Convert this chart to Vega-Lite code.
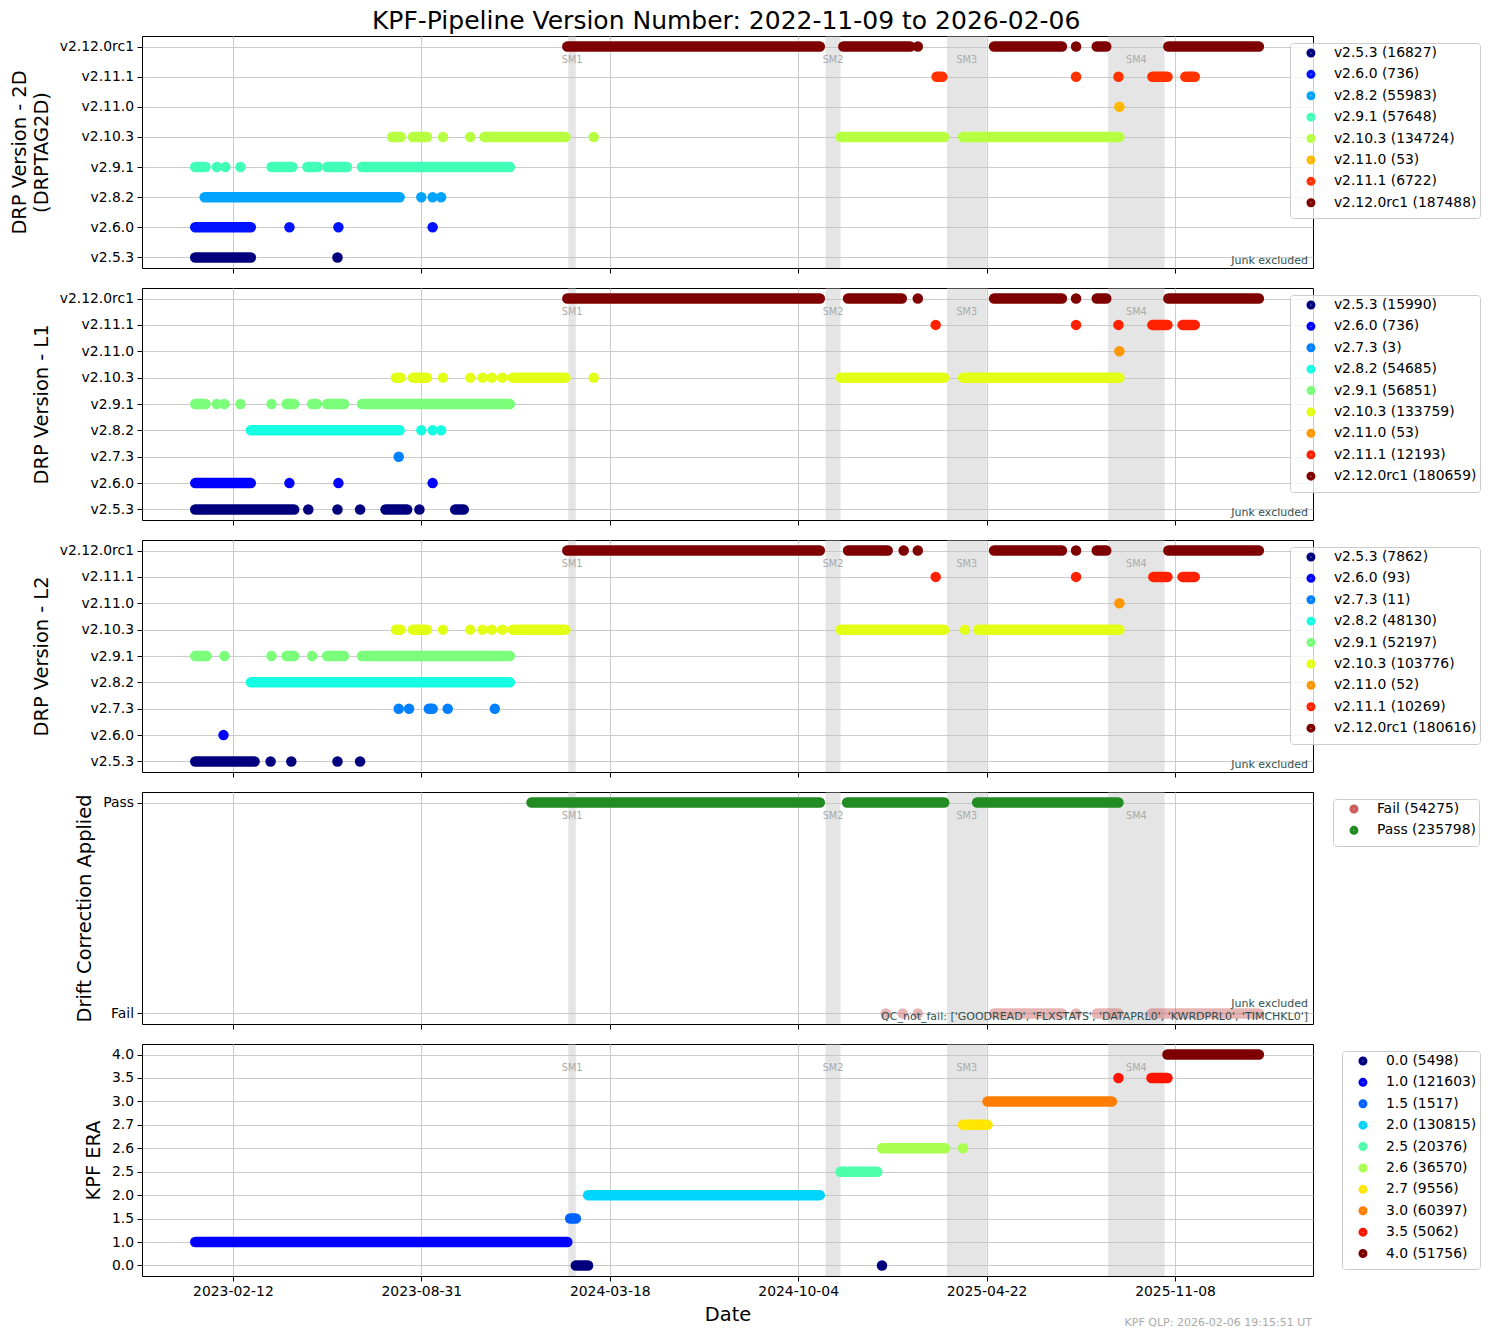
{
  "$schema": "https://vega.github.io/schema/vega-lite/v6.json",
  "background": "white",
  "padding": {"left": 9, "top": 8, "right": 10, "bottom": 5},
  "title": {"text": "KPF-Pipeline Version Number: 2022-11-09 to 2026-02-06", "fontSize": 25, "fontWeight": "normal", "font": "DejaVu Sans", "color": "#000000", "anchor": "middle", "offset": 2, "dx": -19},
  "config": {
    "font": "DejaVu Sans",
    "view": {"stroke": "#000000", "strokeWidth": 1},
    "axis": {"labelFont": "DejaVu Sans", "labelFontSize": 13.9, "labelColor": "#000000", "tickColor": "#000000", "tickSize": 5, "tickWidth": 1, "domain": false, "gridColor": "#cccccc", "gridWidth": 1, "titleFont": "DejaVu Sans", "titleFontSize": 19.4, "titleFontWeight": "normal", "titleColor": "#000000", "labelPadding": 3.5, "zindex": 1},
    "legend": {"labelFont": "DejaVu Sans", "labelFontSize": 13.9, "labelColor": "#000000", "symbolType": "circle", "symbolSize": 16, "symbolStrokeWidth": 5, "strokeColor": "#cccccc", "fillColor": "rgba(255,255,255,0.8)", "cornerRadius": 3, "padding": 3, "rowPadding": -3.6, "symbolOffset": 11, "labelOffset": 16}
  },
  "datasets": {
    "sm": [
      {"n": "SM1", "s": "2024-02-03", "e": "2024-02-11", "m": "2024-02-07"},
      {"n": "SM2", "s": "2024-11-02", "e": "2024-11-18", "m": "2024-11-10"},
      {"n": "SM3", "s": "2025-03-11", "e": "2025-04-22", "m": "2025-04-01"},
      {"n": "SM4", "s": "2025-08-29", "e": "2025-10-28", "m": "2025-09-28"}
    ],
    "c2d": [
      {"v": "v2.5.3", "lab": "v2.5.3 (16827)"},
      {"v": "v2.6.0", "lab": "v2.6.0 (736)"},
      {"v": "v2.8.2", "lab": "v2.8.2 (55983)"},
      {"v": "v2.9.1", "lab": "v2.9.1 (57648)"},
      {"v": "v2.10.3", "lab": "v2.10.3 (134724)"},
      {"v": "v2.11.0", "lab": "v2.11.0 (53)"},
      {"v": "v2.11.1", "lab": "v2.11.1 (6722)"},
      {"v": "v2.12.0rc1", "lab": "v2.12.0rc1 (187488)"}
    ],
    "cl1": [
      {"v": "v2.5.3", "lab": "v2.5.3 (15990)"},
      {"v": "v2.6.0", "lab": "v2.6.0 (736)"},
      {"v": "v2.7.3", "lab": "v2.7.3 (3)"},
      {"v": "v2.8.2", "lab": "v2.8.2 (54685)"},
      {"v": "v2.9.1", "lab": "v2.9.1 (56851)"},
      {"v": "v2.10.3", "lab": "v2.10.3 (133759)"},
      {"v": "v2.11.0", "lab": "v2.11.0 (53)"},
      {"v": "v2.11.1", "lab": "v2.11.1 (12193)"},
      {"v": "v2.12.0rc1", "lab": "v2.12.0rc1 (180659)"}
    ],
    "cl2": [
      {"v": "v2.5.3", "lab": "v2.5.3 (7862)"},
      {"v": "v2.6.0", "lab": "v2.6.0 (93)"},
      {"v": "v2.7.3", "lab": "v2.7.3 (11)"},
      {"v": "v2.8.2", "lab": "v2.8.2 (48130)"},
      {"v": "v2.9.1", "lab": "v2.9.1 (52197)"},
      {"v": "v2.10.3", "lab": "v2.10.3 (103776)"},
      {"v": "v2.11.0", "lab": "v2.11.0 (52)"},
      {"v": "v2.11.1", "lab": "v2.11.1 (10269)"},
      {"v": "v2.12.0rc1", "lab": "v2.12.0rc1 (180616)"}
    ],
    "cdr": [
      {"v": "Fail", "lab": "Fail (54275)"},
      {"v": "Pass", "lab": "Pass (235798)"}
    ],
    "cera": [
      {"v": "0.0", "lab": "0.0 (5498)"},
      {"v": "1.0", "lab": "1.0 (121603)"},
      {"v": "1.5", "lab": "1.5 (1517)"},
      {"v": "2.0", "lab": "2.0 (130815)"},
      {"v": "2.5", "lab": "2.5 (20376)"},
      {"v": "2.6", "lab": "2.6 (36570)"},
      {"v": "2.7", "lab": "2.7 (9556)"},
      {"v": "3.0", "lab": "3.0 (60397)"},
      {"v": "3.5", "lab": "3.5 (5062)"},
      {"v": "4.0", "lab": "4.0 (51756)"}
    ],
    "d2": [
      {"v": "v2.5.3", "s": "2023-01-03", "e": "2023-03-03"},
      {"v": "v2.5.3", "s": "2023-06-03", "e": "2023-06-03"},
      {"v": "v2.6.0", "s": "2023-01-03", "e": "2023-03-03"},
      {"v": "v2.6.0", "s": "2023-04-13", "e": "2023-04-13"},
      {"v": "v2.6.0", "s": "2023-06-04", "e": "2023-06-04"},
      {"v": "v2.6.0", "s": "2023-09-12", "e": "2023-09-12"},
      {"v": "v2.8.2", "s": "2023-01-13", "e": "2023-08-08"},
      {"v": "v2.8.2", "s": "2023-08-31", "e": "2023-08-31"},
      {"v": "v2.8.2", "s": "2023-09-12", "e": "2023-09-12"},
      {"v": "v2.8.2", "s": "2023-09-21", "e": "2023-09-21"},
      {"v": "v2.9.1", "s": "2023-01-03", "e": "2023-01-14"},
      {"v": "v2.9.1", "s": "2023-01-26", "e": "2023-01-26"},
      {"v": "v2.9.1", "s": "2023-02-04", "e": "2023-02-04"},
      {"v": "v2.9.1", "s": "2023-02-20", "e": "2023-02-20"},
      {"v": "v2.9.1", "s": "2023-03-25", "e": "2023-04-16"},
      {"v": "v2.9.1", "s": "2023-05-02", "e": "2023-05-13"},
      {"v": "v2.9.1", "s": "2023-05-23", "e": "2023-06-13"},
      {"v": "v2.9.1", "s": "2023-06-29", "e": "2023-12-03"},
      {"v": "v2.10.3", "s": "2023-07-31", "e": "2023-08-09"},
      {"v": "v2.10.3", "s": "2023-08-22", "e": "2023-09-06"},
      {"v": "v2.10.3", "s": "2023-09-23", "e": "2023-09-23"},
      {"v": "v2.10.3", "s": "2023-10-22", "e": "2023-10-22"},
      {"v": "v2.10.3", "s": "2023-11-06", "e": "2024-01-31"},
      {"v": "v2.10.3", "s": "2024-03-01", "e": "2024-03-01"},
      {"v": "v2.10.3", "s": "2024-11-18", "e": "2025-03-08"},
      {"v": "v2.10.3", "s": "2025-03-28", "e": "2025-09-10"},
      {"v": "v2.11.0", "s": "2025-09-10", "e": "2025-09-10"},
      {"v": "v2.11.1", "s": "2025-02-28", "e": "2025-03-06"},
      {"v": "v2.11.1", "s": "2025-07-26", "e": "2025-07-26"},
      {"v": "v2.11.1", "s": "2025-09-09", "e": "2025-09-09"},
      {"v": "v2.11.1", "s": "2025-10-15", "e": "2025-10-31"},
      {"v": "v2.11.1", "s": "2025-11-19", "e": "2025-11-29"},
      {"v": "v2.12.0rc1", "s": "2024-02-02", "e": "2024-10-27"},
      {"v": "v2.12.0rc1", "s": "2024-11-21", "e": "2025-01-31"},
      {"v": "v2.12.0rc1", "s": "2025-02-08", "e": "2025-02-08"},
      {"v": "v2.12.0rc1", "s": "2025-04-30", "e": "2025-07-11"},
      {"v": "v2.12.0rc1", "s": "2025-07-26", "e": "2025-07-26"},
      {"v": "v2.12.0rc1", "s": "2025-08-17", "e": "2025-08-27"},
      {"v": "v2.12.0rc1", "s": "2025-11-01", "e": "2026-02-05"}
    ],
    "l1": [
      {"v": "v2.5.3", "s": "2023-01-03", "e": "2023-04-18"},
      {"v": "v2.5.3", "s": "2023-05-03", "e": "2023-05-03"},
      {"v": "v2.5.3", "s": "2023-06-03", "e": "2023-06-03"},
      {"v": "v2.5.3", "s": "2023-06-27", "e": "2023-06-27"},
      {"v": "v2.5.3", "s": "2023-07-24", "e": "2023-08-16"},
      {"v": "v2.5.3", "s": "2023-08-29", "e": "2023-08-29"},
      {"v": "v2.5.3", "s": "2023-10-06", "e": "2023-10-15"},
      {"v": "v2.6.0", "s": "2023-01-03", "e": "2023-03-03"},
      {"v": "v2.6.0", "s": "2023-04-13", "e": "2023-04-13"},
      {"v": "v2.6.0", "s": "2023-06-04", "e": "2023-06-04"},
      {"v": "v2.6.0", "s": "2023-09-12", "e": "2023-09-12"},
      {"v": "v2.7.3", "s": "2023-08-07", "e": "2023-08-07"},
      {"v": "v2.8.2", "s": "2023-03-03", "e": "2023-08-08"},
      {"v": "v2.8.2", "s": "2023-08-31", "e": "2023-08-31"},
      {"v": "v2.8.2", "s": "2023-09-12", "e": "2023-09-12"},
      {"v": "v2.8.2", "s": "2023-09-21", "e": "2023-09-21"},
      {"v": "v2.9.1", "s": "2023-01-03", "e": "2023-01-14"},
      {"v": "v2.9.1", "s": "2023-01-26", "e": "2023-01-26"},
      {"v": "v2.9.1", "s": "2023-02-03", "e": "2023-02-03"},
      {"v": "v2.9.1", "s": "2023-02-20", "e": "2023-02-20"},
      {"v": "v2.9.1", "s": "2023-03-25", "e": "2023-03-25"},
      {"v": "v2.9.1", "s": "2023-04-10", "e": "2023-04-18"},
      {"v": "v2.9.1", "s": "2023-05-07", "e": "2023-05-12"},
      {"v": "v2.9.1", "s": "2023-05-23", "e": "2023-06-10"},
      {"v": "v2.9.1", "s": "2023-06-29", "e": "2023-12-03"},
      {"v": "v2.10.3", "s": "2023-08-04", "e": "2023-08-09"},
      {"v": "v2.10.3", "s": "2023-08-22", "e": "2023-09-06"},
      {"v": "v2.10.3", "s": "2023-09-23", "e": "2023-09-23"},
      {"v": "v2.10.3", "s": "2023-10-22", "e": "2023-10-22"},
      {"v": "v2.10.3", "s": "2023-11-04", "e": "2023-11-04"},
      {"v": "v2.10.3", "s": "2023-11-14", "e": "2023-11-14"},
      {"v": "v2.10.3", "s": "2023-11-25", "e": "2023-11-25"},
      {"v": "v2.10.3", "s": "2023-12-06", "e": "2024-01-31"},
      {"v": "v2.10.3", "s": "2024-03-01", "e": "2024-03-01"},
      {"v": "v2.10.3", "s": "2024-11-18", "e": "2025-03-08"},
      {"v": "v2.10.3", "s": "2025-03-28", "e": "2025-09-10"},
      {"v": "v2.11.0", "s": "2025-09-10", "e": "2025-09-10"},
      {"v": "v2.11.1", "s": "2025-02-27", "e": "2025-02-27"},
      {"v": "v2.11.1", "s": "2025-07-26", "e": "2025-07-26"},
      {"v": "v2.11.1", "s": "2025-09-09", "e": "2025-09-09"},
      {"v": "v2.11.1", "s": "2025-10-15", "e": "2025-10-31"},
      {"v": "v2.11.1", "s": "2025-11-16", "e": "2025-11-29"},
      {"v": "v2.12.0rc1", "s": "2024-02-02", "e": "2024-10-27"},
      {"v": "v2.12.0rc1", "s": "2024-11-26", "e": "2025-01-22"},
      {"v": "v2.12.0rc1", "s": "2025-02-08", "e": "2025-02-08"},
      {"v": "v2.12.0rc1", "s": "2025-04-30", "e": "2025-07-11"},
      {"v": "v2.12.0rc1", "s": "2025-07-26", "e": "2025-07-26"},
      {"v": "v2.12.0rc1", "s": "2025-08-17", "e": "2025-08-27"},
      {"v": "v2.12.0rc1", "s": "2025-11-01", "e": "2026-02-05"}
    ],
    "l2": [
      {"v": "v2.5.3", "s": "2023-01-03", "e": "2023-03-07"},
      {"v": "v2.5.3", "s": "2023-03-24", "e": "2023-03-24"},
      {"v": "v2.5.3", "s": "2023-04-15", "e": "2023-04-15"},
      {"v": "v2.5.3", "s": "2023-06-03", "e": "2023-06-03"},
      {"v": "v2.5.3", "s": "2023-06-27", "e": "2023-06-27"},
      {"v": "v2.6.0", "s": "2023-02-02", "e": "2023-02-02"},
      {"v": "v2.7.3", "s": "2023-08-07", "e": "2023-08-07"},
      {"v": "v2.7.3", "s": "2023-08-18", "e": "2023-08-18"},
      {"v": "v2.7.3", "s": "2023-09-08", "e": "2023-09-12"},
      {"v": "v2.7.3", "s": "2023-09-28", "e": "2023-09-28"},
      {"v": "v2.7.3", "s": "2023-11-17", "e": "2023-11-17"},
      {"v": "v2.8.2", "s": "2023-03-03", "e": "2023-12-03"},
      {"v": "v2.9.1", "s": "2023-01-03", "e": "2023-01-15"},
      {"v": "v2.9.1", "s": "2023-02-03", "e": "2023-02-03"},
      {"v": "v2.9.1", "s": "2023-03-25", "e": "2023-03-25"},
      {"v": "v2.9.1", "s": "2023-04-10", "e": "2023-04-18"},
      {"v": "v2.9.1", "s": "2023-05-07", "e": "2023-05-07"},
      {"v": "v2.9.1", "s": "2023-05-23", "e": "2023-06-10"},
      {"v": "v2.9.1", "s": "2023-06-29", "e": "2023-12-03"},
      {"v": "v2.10.3", "s": "2023-08-04", "e": "2023-08-09"},
      {"v": "v2.10.3", "s": "2023-08-22", "e": "2023-09-06"},
      {"v": "v2.10.3", "s": "2023-09-23", "e": "2023-09-23"},
      {"v": "v2.10.3", "s": "2023-10-22", "e": "2023-10-22"},
      {"v": "v2.10.3", "s": "2023-11-04", "e": "2023-11-04"},
      {"v": "v2.10.3", "s": "2023-11-14", "e": "2023-11-14"},
      {"v": "v2.10.3", "s": "2023-11-25", "e": "2023-11-25"},
      {"v": "v2.10.3", "s": "2023-12-06", "e": "2024-01-31"},
      {"v": "v2.10.3", "s": "2024-11-18", "e": "2025-03-08"},
      {"v": "v2.10.3", "s": "2025-03-30", "e": "2025-03-30"},
      {"v": "v2.10.3", "s": "2025-04-13", "e": "2025-09-10"},
      {"v": "v2.11.0", "s": "2025-09-10", "e": "2025-09-10"},
      {"v": "v2.11.1", "s": "2025-02-27", "e": "2025-02-27"},
      {"v": "v2.11.1", "s": "2025-07-26", "e": "2025-07-26"},
      {"v": "v2.11.1", "s": "2025-10-16", "e": "2025-10-31"},
      {"v": "v2.11.1", "s": "2025-11-16", "e": "2025-11-29"},
      {"v": "v2.12.0rc1", "s": "2024-02-02", "e": "2024-10-27"},
      {"v": "v2.12.0rc1", "s": "2024-11-26", "e": "2025-01-07"},
      {"v": "v2.12.0rc1", "s": "2025-01-24", "e": "2025-01-24"},
      {"v": "v2.12.0rc1", "s": "2025-02-08", "e": "2025-02-08"},
      {"v": "v2.12.0rc1", "s": "2025-04-30", "e": "2025-07-11"},
      {"v": "v2.12.0rc1", "s": "2025-07-26", "e": "2025-07-26"},
      {"v": "v2.12.0rc1", "s": "2025-08-17", "e": "2025-08-27"},
      {"v": "v2.12.0rc1", "s": "2025-11-01", "e": "2026-02-05"}
    ],
    "dr": [
      {"v": "Pass", "s": "2023-12-26", "e": "2024-10-27"},
      {"v": "Pass", "s": "2024-11-25", "e": "2025-03-08"},
      {"v": "Pass", "s": "2025-04-12", "e": "2025-09-09"},
      {"v": "Fail", "s": "2025-01-05", "e": "2025-01-05"},
      {"v": "Fail", "s": "2025-01-23", "e": "2025-01-23"},
      {"v": "Fail", "s": "2025-02-08", "e": "2025-02-08"},
      {"v": "Fail", "s": "2025-04-30", "e": "2025-07-11"},
      {"v": "Fail", "s": "2025-07-26", "e": "2025-07-26"},
      {"v": "Fail", "s": "2025-08-17", "e": "2025-09-09"},
      {"v": "Fail", "s": "2025-10-14", "e": "2026-02-05"}
    ],
    "era": [
      {"v": "1.0", "s": "2023-01-03", "e": "2024-02-02"},
      {"v": "0.0", "s": "2024-02-11", "e": "2024-02-24"},
      {"v": "0.0", "s": "2025-01-01", "e": "2025-01-01"},
      {"v": "1.5", "s": "2024-02-05", "e": "2024-02-11"},
      {"v": "2.0", "s": "2024-02-24", "e": "2024-10-27"},
      {"v": "2.5", "s": "2024-11-18", "e": "2024-12-27"},
      {"v": "2.6", "s": "2025-01-01", "e": "2025-03-09"},
      {"v": "2.6", "s": "2025-03-28", "e": "2025-03-28"},
      {"v": "2.7", "s": "2025-03-28", "e": "2025-04-23"},
      {"v": "3.0", "s": "2025-04-23", "e": "2025-09-02"},
      {"v": "3.5", "s": "2025-09-09", "e": "2025-09-09"},
      {"v": "3.5", "s": "2025-10-14", "e": "2025-10-31"},
      {"v": "4.0", "s": "2025-10-31", "e": "2026-02-05"}
    ]
  },
  "spacing": 13,
  "resolve": {"scale": {"x": "independent", "y": "independent", "color": "independent"}, "legend": {"color": "independent"}},
  "vconcat": [
    {
      "width": 1171, "height": 232,
      "layer": [
        {"data": {"name": "sm"}, "mark": {"type": "rect", "fill": "#bfbfbf", "opacity": 0.4}, "encoding": {"x": {"field": "s", "type": "temporal", "scale": {"type": "utc", "domain": [{"year": 2022, "month": 11, "date": 7, "hours": 12, "utc": true}, {"year": 2026, "month": 4, "date": 3, "hours": 12, "utc": true}]}, "axis": {"values": [{"year": 2023, "month": 2, "date": 12, "utc": true}, {"year": 2023, "month": 8, "date": 31, "utc": true}, {"year": 2024, "month": 3, "date": 18, "utc": true}, {"year": 2024, "month": 10, "date": 4, "utc": true}, {"year": 2025, "month": 4, "date": 22, "utc": true}, {"year": 2025, "month": 11, "date": 8, "utc": true}], "labels": false, "title": null, "grid": true}}, "x2": {"field": "e"}}},
        {"data": {"name": "sm"}, "mark": {"type": "text", "fontSize": 9.7, "color": "#aaaaaa", "baseline": "middle", "align": "center", "dy": 13.5}, "encoding": {"x": {"field": "m", "type": "temporal", "scale": {"type": "utc", "domain": [{"year": 2022, "month": 11, "date": 7, "hours": 12, "utc": true}, {"year": 2026, "month": 4, "date": 3, "hours": 12, "utc": true}]}, "axis": {"values": [{"year": 2023, "month": 2, "date": 12, "utc": true}, {"year": 2023, "month": 8, "date": 31, "utc": true}, {"year": 2024, "month": 3, "date": 18, "utc": true}, {"year": 2024, "month": 10, "date": 4, "utc": true}, {"year": 2025, "month": 4, "date": 22, "utc": true}, {"year": 2025, "month": 11, "date": 8, "utc": true}], "labels": false, "title": null, "grid": true}}, "y": {"datum": "v2.12.0rc1", "type": "ordinal", "scale": {"type": "point", "padding": 0.35, "domain": ["v2.12.0rc1", "v2.11.1", "v2.11.0", "v2.10.3", "v2.9.1", "v2.8.2", "v2.6.0", "v2.5.3"]}, "axis": {"title": ["DRP Version - 2D", "(DRPTAG2D)"], "titlePadding": 8, "grid": true}}, "text": {"field": "n"}}},
        {"data": {"name": "d2"}, "transform": [{"lookup": "v", "from": {"data": {"name": "c2d"}, "key": "v", "fields": ["lab"]}}],
         "mark": {"type": "rule", "strokeCap": "round"},
         "encoding": {
           "x": {"field": "s", "type": "temporal", "scale": {"type": "utc", "domain": [{"year": 2022, "month": 11, "date": 7, "hours": 12, "utc": true}, {"year": 2026, "month": 4, "date": 3, "hours": 12, "utc": true}]}, "axis": {"values": [{"year": 2023, "month": 2, "date": 12, "utc": true}, {"year": 2023, "month": 8, "date": 31, "utc": true}, {"year": 2024, "month": 3, "date": 18, "utc": true}, {"year": 2024, "month": 10, "date": 4, "utc": true}, {"year": 2025, "month": 4, "date": 22, "utc": true}, {"year": 2025, "month": 11, "date": 8, "utc": true}], "labels": false, "title": null, "grid": true}},
           "x2": {"field": "e"},
           "y": {"field": "v", "type": "ordinal", "scale": {"type": "point", "padding": 0.35, "domain": ["v2.12.0rc1", "v2.11.1", "v2.11.0", "v2.10.3", "v2.9.1", "v2.8.2", "v2.6.0", "v2.5.3"]}, "axis": {"title": ["DRP Version - 2D", "(DRPTAG2D)"], "titlePadding": 8, "grid": true}},
           "strokeWidth": {"value": 10.5},
           "color": {"field": "lab", "type": "nominal", "scale": {"domain": ["v2.5.3 (16827)", "v2.6.0 (736)", "v2.8.2 (55983)", "v2.9.1 (57648)", "v2.10.3 (134724)", "v2.11.0 (53)", "v2.11.1 (6722)", "v2.12.0rc1 (187488)"], "range": ["#00007f", "#0012ff", "#00a4ff", "#41ffb6", "#b6ff41", "#ffb900", "#ff3200", "#7f0000"]}, "legend": {"title": null, "orient": "none", "legendX": 1148, "legendY": 7, "symbolStrokeWidth": 5, "symbolSize": 16, "encode": {"symbols": {"update": {"size": {"value": 16}, "strokeWidth": {"value": 5}}}}}}
         }},
        {"data": {"values": [{"t": "Junk excluded"}]}, "mark": {"type": "text", "align": "right", "baseline": "bottom", "dx": -5, "dy": -2, "fontSize": 11, "color": "#2f4f4f"}, "encoding": {"x": {"value": "width"}, "y": {"value": "height"}, "text": {"field": "t"}}}
      ]
    },
    {
      "width": 1171, "height": 232,
      "layer": [
        {"data": {"name": "sm"}, "mark": {"type": "rect", "fill": "#bfbfbf", "opacity": 0.4}, "encoding": {"x": {"field": "s", "type": "temporal", "scale": {"type": "utc", "domain": [{"year": 2022, "month": 11, "date": 7, "hours": 12, "utc": true}, {"year": 2026, "month": 4, "date": 3, "hours": 12, "utc": true}]}, "axis": {"values": [{"year": 2023, "month": 2, "date": 12, "utc": true}, {"year": 2023, "month": 8, "date": 31, "utc": true}, {"year": 2024, "month": 3, "date": 18, "utc": true}, {"year": 2024, "month": 10, "date": 4, "utc": true}, {"year": 2025, "month": 4, "date": 22, "utc": true}, {"year": 2025, "month": 11, "date": 8, "utc": true}], "labels": false, "title": null, "grid": true}}, "x2": {"field": "e"}}},
        {"data": {"name": "sm"}, "mark": {"type": "text", "fontSize": 9.7, "color": "#aaaaaa", "baseline": "middle", "align": "center", "dy": 13.5}, "encoding": {"x": {"field": "m", "type": "temporal", "scale": {"type": "utc", "domain": [{"year": 2022, "month": 11, "date": 7, "hours": 12, "utc": true}, {"year": 2026, "month": 4, "date": 3, "hours": 12, "utc": true}]}, "axis": {"values": [{"year": 2023, "month": 2, "date": 12, "utc": true}, {"year": 2023, "month": 8, "date": 31, "utc": true}, {"year": 2024, "month": 3, "date": 18, "utc": true}, {"year": 2024, "month": 10, "date": 4, "utc": true}, {"year": 2025, "month": 4, "date": 22, "utc": true}, {"year": 2025, "month": 11, "date": 8, "utc": true}], "labels": false, "title": null, "grid": true}}, "y": {"datum": "v2.12.0rc1", "type": "ordinal", "scale": {"type": "point", "padding": 0.4, "domain": ["v2.12.0rc1", "v2.11.1", "v2.11.0", "v2.10.3", "v2.9.1", "v2.8.2", "v2.7.3", "v2.6.0", "v2.5.3"]}, "axis": {"title": "DRP Version - L1", "titlePadding": 8, "grid": true}}, "text": {"field": "n"}}},
        {"data": {"name": "l1"}, "transform": [{"lookup": "v", "from": {"data": {"name": "cl1"}, "key": "v", "fields": ["lab"]}}],
         "mark": {"type": "rule", "strokeCap": "round"},
         "encoding": {
           "x": {"field": "s", "type": "temporal", "scale": {"type": "utc", "domain": [{"year": 2022, "month": 11, "date": 7, "hours": 12, "utc": true}, {"year": 2026, "month": 4, "date": 3, "hours": 12, "utc": true}]}, "axis": {"values": [{"year": 2023, "month": 2, "date": 12, "utc": true}, {"year": 2023, "month": 8, "date": 31, "utc": true}, {"year": 2024, "month": 3, "date": 18, "utc": true}, {"year": 2024, "month": 10, "date": 4, "utc": true}, {"year": 2025, "month": 4, "date": 22, "utc": true}, {"year": 2025, "month": 11, "date": 8, "utc": true}], "labels": false, "title": null, "grid": true}},
           "x2": {"field": "e"},
           "y": {"field": "v", "type": "ordinal", "scale": {"type": "point", "padding": 0.4, "domain": ["v2.12.0rc1", "v2.11.1", "v2.11.0", "v2.10.3", "v2.9.1", "v2.8.2", "v2.7.3", "v2.6.0", "v2.5.3"]}, "axis": {"title": "DRP Version - L1", "titlePadding": 8, "grid": true}},
           "strokeWidth": {"value": 10.5},
           "color": {"field": "lab", "type": "nominal", "scale": {"domain": ["v2.5.3 (15990)", "v2.6.0 (736)", "v2.7.3 (3)", "v2.8.2 (54685)", "v2.9.1 (56851)", "v2.10.3 (133759)", "v2.11.0 (53)", "v2.11.1 (12193)", "v2.12.0rc1 (180659)"], "range": ["#00007f", "#0000ff", "#0080ff", "#15ffe2", "#7bff7b", "#e2ff15", "#ff9700", "#ff2100", "#7f0000"]}, "legend": {"title": null, "orient": "none", "legendX": 1148, "legendY": 7, "symbolStrokeWidth": 5, "symbolSize": 16, "encode": {"symbols": {"update": {"size": {"value": 16}, "strokeWidth": {"value": 5}}}}}}
         }},
        {"data": {"values": [{"t": "Junk excluded"}]}, "mark": {"type": "text", "align": "right", "baseline": "bottom", "dx": -5, "dy": -2, "fontSize": 11, "color": "#2f4f4f"}, "encoding": {"x": {"value": "width"}, "y": {"value": "height"}, "text": {"field": "t"}}}
      ]
    },
    {
      "width": 1171, "height": 232,
      "layer": [
        {"data": {"name": "sm"}, "mark": {"type": "rect", "fill": "#bfbfbf", "opacity": 0.4}, "encoding": {"x": {"field": "s", "type": "temporal", "scale": {"type": "utc", "domain": [{"year": 2022, "month": 11, "date": 7, "hours": 12, "utc": true}, {"year": 2026, "month": 4, "date": 3, "hours": 12, "utc": true}]}, "axis": {"values": [{"year": 2023, "month": 2, "date": 12, "utc": true}, {"year": 2023, "month": 8, "date": 31, "utc": true}, {"year": 2024, "month": 3, "date": 18, "utc": true}, {"year": 2024, "month": 10, "date": 4, "utc": true}, {"year": 2025, "month": 4, "date": 22, "utc": true}, {"year": 2025, "month": 11, "date": 8, "utc": true}], "labels": false, "title": null, "grid": true}}, "x2": {"field": "e"}}},
        {"data": {"name": "sm"}, "mark": {"type": "text", "fontSize": 9.7, "color": "#aaaaaa", "baseline": "middle", "align": "center", "dy": 13.5}, "encoding": {"x": {"field": "m", "type": "temporal", "scale": {"type": "utc", "domain": [{"year": 2022, "month": 11, "date": 7, "hours": 12, "utc": true}, {"year": 2026, "month": 4, "date": 3, "hours": 12, "utc": true}]}, "axis": {"values": [{"year": 2023, "month": 2, "date": 12, "utc": true}, {"year": 2023, "month": 8, "date": 31, "utc": true}, {"year": 2024, "month": 3, "date": 18, "utc": true}, {"year": 2024, "month": 10, "date": 4, "utc": true}, {"year": 2025, "month": 4, "date": 22, "utc": true}, {"year": 2025, "month": 11, "date": 8, "utc": true}], "labels": false, "title": null, "grid": true}}, "y": {"datum": "v2.12.0rc1", "type": "ordinal", "scale": {"type": "point", "padding": 0.4, "domain": ["v2.12.0rc1", "v2.11.1", "v2.11.0", "v2.10.3", "v2.9.1", "v2.8.2", "v2.7.3", "v2.6.0", "v2.5.3"]}, "axis": {"title": "DRP Version - L2", "titlePadding": 8, "grid": true}}, "text": {"field": "n"}}},
        {"data": {"name": "l2"}, "transform": [{"lookup": "v", "from": {"data": {"name": "cl2"}, "key": "v", "fields": ["lab"]}}],
         "mark": {"type": "rule", "strokeCap": "round"},
         "encoding": {
           "x": {"field": "s", "type": "temporal", "scale": {"type": "utc", "domain": [{"year": 2022, "month": 11, "date": 7, "hours": 12, "utc": true}, {"year": 2026, "month": 4, "date": 3, "hours": 12, "utc": true}]}, "axis": {"values": [{"year": 2023, "month": 2, "date": 12, "utc": true}, {"year": 2023, "month": 8, "date": 31, "utc": true}, {"year": 2024, "month": 3, "date": 18, "utc": true}, {"year": 2024, "month": 10, "date": 4, "utc": true}, {"year": 2025, "month": 4, "date": 22, "utc": true}, {"year": 2025, "month": 11, "date": 8, "utc": true}], "labels": false, "title": null, "grid": true}},
           "x2": {"field": "e"},
           "y": {"field": "v", "type": "ordinal", "scale": {"type": "point", "padding": 0.4, "domain": ["v2.12.0rc1", "v2.11.1", "v2.11.0", "v2.10.3", "v2.9.1", "v2.8.2", "v2.7.3", "v2.6.0", "v2.5.3"]}, "axis": {"title": "DRP Version - L2", "titlePadding": 8, "grid": true}},
           "strokeWidth": {"value": 10.5},
           "color": {"field": "lab", "type": "nominal", "scale": {"domain": ["v2.5.3 (7862)", "v2.6.0 (93)", "v2.7.3 (11)", "v2.8.2 (48130)", "v2.9.1 (52197)", "v2.10.3 (103776)", "v2.11.0 (52)", "v2.11.1 (10269)", "v2.12.0rc1 (180616)"], "range": ["#00007f", "#0000ff", "#0080ff", "#15ffe2", "#7bff7b", "#e2ff15", "#ff9700", "#ff2100", "#7f0000"]}, "legend": {"title": null, "orient": "none", "legendX": 1148, "legendY": 7, "symbolStrokeWidth": 5, "symbolSize": 16, "encode": {"symbols": {"update": {"size": {"value": 16}, "strokeWidth": {"value": 5}}}}}}
         }},
        {"data": {"values": [{"t": "Junk excluded"}]}, "mark": {"type": "text", "align": "right", "baseline": "bottom", "dx": -5, "dy": -2, "fontSize": 11, "color": "#2f4f4f"}, "encoding": {"x": {"value": "width"}, "y": {"value": "height"}, "text": {"field": "t"}}}
      ]
    },
    {
      "width": 1171, "height": 232,
      "layer": [
        {"data": {"name": "sm"}, "mark": {"type": "rect", "fill": "#bfbfbf", "opacity": 0.4}, "encoding": {"x": {"field": "s", "type": "temporal", "scale": {"type": "utc", "domain": [{"year": 2022, "month": 11, "date": 7, "hours": 12, "utc": true}, {"year": 2026, "month": 4, "date": 3, "hours": 12, "utc": true}]}, "axis": {"values": [{"year": 2023, "month": 2, "date": 12, "utc": true}, {"year": 2023, "month": 8, "date": 31, "utc": true}, {"year": 2024, "month": 3, "date": 18, "utc": true}, {"year": 2024, "month": 10, "date": 4, "utc": true}, {"year": 2025, "month": 4, "date": 22, "utc": true}, {"year": 2025, "month": 11, "date": 8, "utc": true}], "labels": false, "title": null, "grid": true}}, "x2": {"field": "e"}}},
        {"data": {"name": "sm"}, "mark": {"type": "text", "fontSize": 9.7, "color": "#aaaaaa", "baseline": "middle", "align": "center", "dy": 13.5}, "encoding": {"x": {"field": "m", "type": "temporal", "scale": {"type": "utc", "domain": [{"year": 2022, "month": 11, "date": 7, "hours": 12, "utc": true}, {"year": 2026, "month": 4, "date": 3, "hours": 12, "utc": true}]}, "axis": {"values": [{"year": 2023, "month": 2, "date": 12, "utc": true}, {"year": 2023, "month": 8, "date": 31, "utc": true}, {"year": 2024, "month": 3, "date": 18, "utc": true}, {"year": 2024, "month": 10, "date": 4, "utc": true}, {"year": 2025, "month": 4, "date": 22, "utc": true}, {"year": 2025, "month": 11, "date": 8, "utc": true}], "labels": false, "title": null, "grid": true}}, "y": {"datum": "Pass", "type": "ordinal", "scale": {"type": "point", "padding": 0.05, "domain": ["Pass", "Fail"]}, "axis": {"title": "Drift Correction Applied", "titlePadding": 8, "grid": true}}, "text": {"field": "n"}}},
        {"data": {"name": "dr"}, "transform": [{"lookup": "v", "from": {"data": {"name": "cdr"}, "key": "v", "fields": ["lab"]}}],
         "mark": {"type": "rule", "strokeCap": "round"},
         "encoding": {
           "x": {"field": "s", "type": "temporal", "scale": {"type": "utc", "domain": [{"year": 2022, "month": 11, "date": 7, "hours": 12, "utc": true}, {"year": 2026, "month": 4, "date": 3, "hours": 12, "utc": true}]}, "axis": {"values": [{"year": 2023, "month": 2, "date": 12, "utc": true}, {"year": 2023, "month": 8, "date": 31, "utc": true}, {"year": 2024, "month": 3, "date": 18, "utc": true}, {"year": 2024, "month": 10, "date": 4, "utc": true}, {"year": 2025, "month": 4, "date": 22, "utc": true}, {"year": 2025, "month": 11, "date": 8, "utc": true}], "labels": false, "title": null, "grid": true}},
           "x2": {"field": "e"},
           "y": {"field": "v", "type": "ordinal", "scale": {"type": "point", "padding": 0.05, "domain": ["Pass", "Fail"]}, "axis": {"title": "Drift Correction Applied", "titlePadding": 8, "grid": true}},
           "strokeWidth": {"value": 10.5},
           "color": {"field": "lab", "type": "nominal", "scale": {"domain": ["Fail (54275)", "Pass (235798)"], "range": ["#cd5c5c", "#228b22"]}, "legend": {"title": null, "orient": "none", "legendX": 1191, "legendY": 7, "symbolStrokeWidth": 5, "symbolSize": 16, "symbolOpacity": 1, "encode": {"symbols": {"update": {"size": {"value": 16}, "strokeWidth": {"value": 5}}}}}},
           "opacity": {"condition": {"test": "datum.v === 'Fail'", "value": 0.45}, "value": 1}
         }},
        {"data": {"values": [{"t": "Junk excluded"}]}, "mark": {"type": "text", "align": "right", "baseline": "bottom", "dx": -5, "dy": -15, "fontSize": 11, "color": "#2f4f4f"}, "encoding": {"x": {"value": "width"}, "y": {"value": "height"}, "text": {"field": "t"}}},
        {"data": {"values": [{"t": "QC_not_fail: ['GOODREAD', 'FLXSTATS', 'DATAPRL0', 'KWRDPRL0', 'TIMCHKL0']"}]}, "mark": {"type": "text", "align": "right", "baseline": "bottom", "dx": -5, "dy": -2, "fontSize": 11, "color": "#2f4f4f"}, "encoding": {"x": {"value": "width"}, "y": {"value": "height"}, "text": {"field": "t"}}}
      ]
    },
    {
      "width": 1171, "height": 232,
      "layer": [
        {"data": {"name": "sm"}, "mark": {"type": "rect", "fill": "#bfbfbf", "opacity": 0.4}, "encoding": {"x": {"field": "s", "type": "temporal", "scale": {"type": "utc", "domain": [{"year": 2022, "month": 11, "date": 7, "hours": 12, "utc": true}, {"year": 2026, "month": 4, "date": 3, "hours": 12, "utc": true}]}, "axis": {"values": [{"year": 2023, "month": 2, "date": 12, "utc": true}, {"year": 2023, "month": 8, "date": 31, "utc": true}, {"year": 2024, "month": 3, "date": 18, "utc": true}, {"year": 2024, "month": 10, "date": 4, "utc": true}, {"year": 2025, "month": 4, "date": 22, "utc": true}, {"year": 2025, "month": 11, "date": 8, "utc": true}], "labelExpr": "utcFormat(datum.value, '%Y-%m-%d')", "title": "Date", "titlePadding": 7, "grid": true}}, "x2": {"field": "e"}}},
        {"data": {"name": "sm"}, "mark": {"type": "text", "fontSize": 9.7, "color": "#aaaaaa", "baseline": "middle", "align": "center", "dy": 13.5}, "encoding": {"x": {"field": "m", "type": "temporal", "scale": {"type": "utc", "domain": [{"year": 2022, "month": 11, "date": 7, "hours": 12, "utc": true}, {"year": 2026, "month": 4, "date": 3, "hours": 12, "utc": true}]}, "axis": {"values": [{"year": 2023, "month": 2, "date": 12, "utc": true}, {"year": 2023, "month": 8, "date": 31, "utc": true}, {"year": 2024, "month": 3, "date": 18, "utc": true}, {"year": 2024, "month": 10, "date": 4, "utc": true}, {"year": 2025, "month": 4, "date": 22, "utc": true}, {"year": 2025, "month": 11, "date": 8, "utc": true}], "labelExpr": "utcFormat(datum.value, '%Y-%m-%d')", "title": "Date", "titlePadding": 7, "grid": true}}, "y": {"datum": "4.0", "type": "ordinal", "scale": {"type": "point", "padding": 0.45, "domain": ["4.0", "3.5", "3.0", "2.7", "2.6", "2.5", "2.0", "1.5", "1.0", "0.0"]}, "axis": {"title": "KPF ERA", "titlePadding": 8, "grid": true}}, "text": {"field": "n"}}},
        {"data": {"name": "era"}, "transform": [{"lookup": "v", "from": {"data": {"name": "cera"}, "key": "v", "fields": ["lab"]}}],
         "mark": {"type": "rule", "strokeCap": "round"},
         "encoding": {
           "x": {"field": "s", "type": "temporal", "scale": {"type": "utc", "domain": [{"year": 2022, "month": 11, "date": 7, "hours": 12, "utc": true}, {"year": 2026, "month": 4, "date": 3, "hours": 12, "utc": true}]}, "axis": {"values": [{"year": 2023, "month": 2, "date": 12, "utc": true}, {"year": 2023, "month": 8, "date": 31, "utc": true}, {"year": 2024, "month": 3, "date": 18, "utc": true}, {"year": 2024, "month": 10, "date": 4, "utc": true}, {"year": 2025, "month": 4, "date": 22, "utc": true}, {"year": 2025, "month": 11, "date": 8, "utc": true}], "labelExpr": "utcFormat(datum.value, '%Y-%m-%d')", "title": "Date", "titlePadding": 7, "grid": true}},
           "x2": {"field": "e"},
           "y": {"field": "v", "type": "ordinal", "scale": {"type": "point", "padding": 0.45, "domain": ["4.0", "3.5", "3.0", "2.7", "2.6", "2.5", "2.0", "1.5", "1.0", "0.0"]}, "axis": {"title": "KPF ERA", "titlePadding": 8, "grid": true}},
           "strokeWidth": {"value": 10.5},
           "color": {"field": "lab", "type": "nominal", "scale": {"domain": ["0.0 (5498)", "1.0 (121603)", "1.5 (1517)", "2.0 (130815)", "2.5 (20376)", "2.6 (36570)", "2.7 (9556)", "3.0 (60397)", "3.5 (5062)", "4.0 (51756)"], "range": ["#00007f", "#0000ff", "#0063ff", "#00d4ff", "#4effa9", "#a9ff4e", "#ffe600", "#ff7d00", "#ff1400", "#7f0000"]}, "legend": {"title": null, "orient": "none", "legendX": 1200, "legendY": 7, "symbolStrokeWidth": 5, "symbolSize": 16, "encode": {"symbols": {"update": {"size": {"value": 16}, "strokeWidth": {"value": 5}}}}}}
         }},
        {"data": {"values": [{"t": "KPF QLP: 2026-02-06 19:15:51 UT"}]}, "mark": {"type": "text", "align": "right", "baseline": "middle", "dx": -1, "dy": 47, "fontSize": 11, "color": "#aaaaaa"}, "encoding": {"x": {"value": "width"}, "y": {"value": "height"}, "text": {"field": "t"}}}
      ]
    }
  ]
}
